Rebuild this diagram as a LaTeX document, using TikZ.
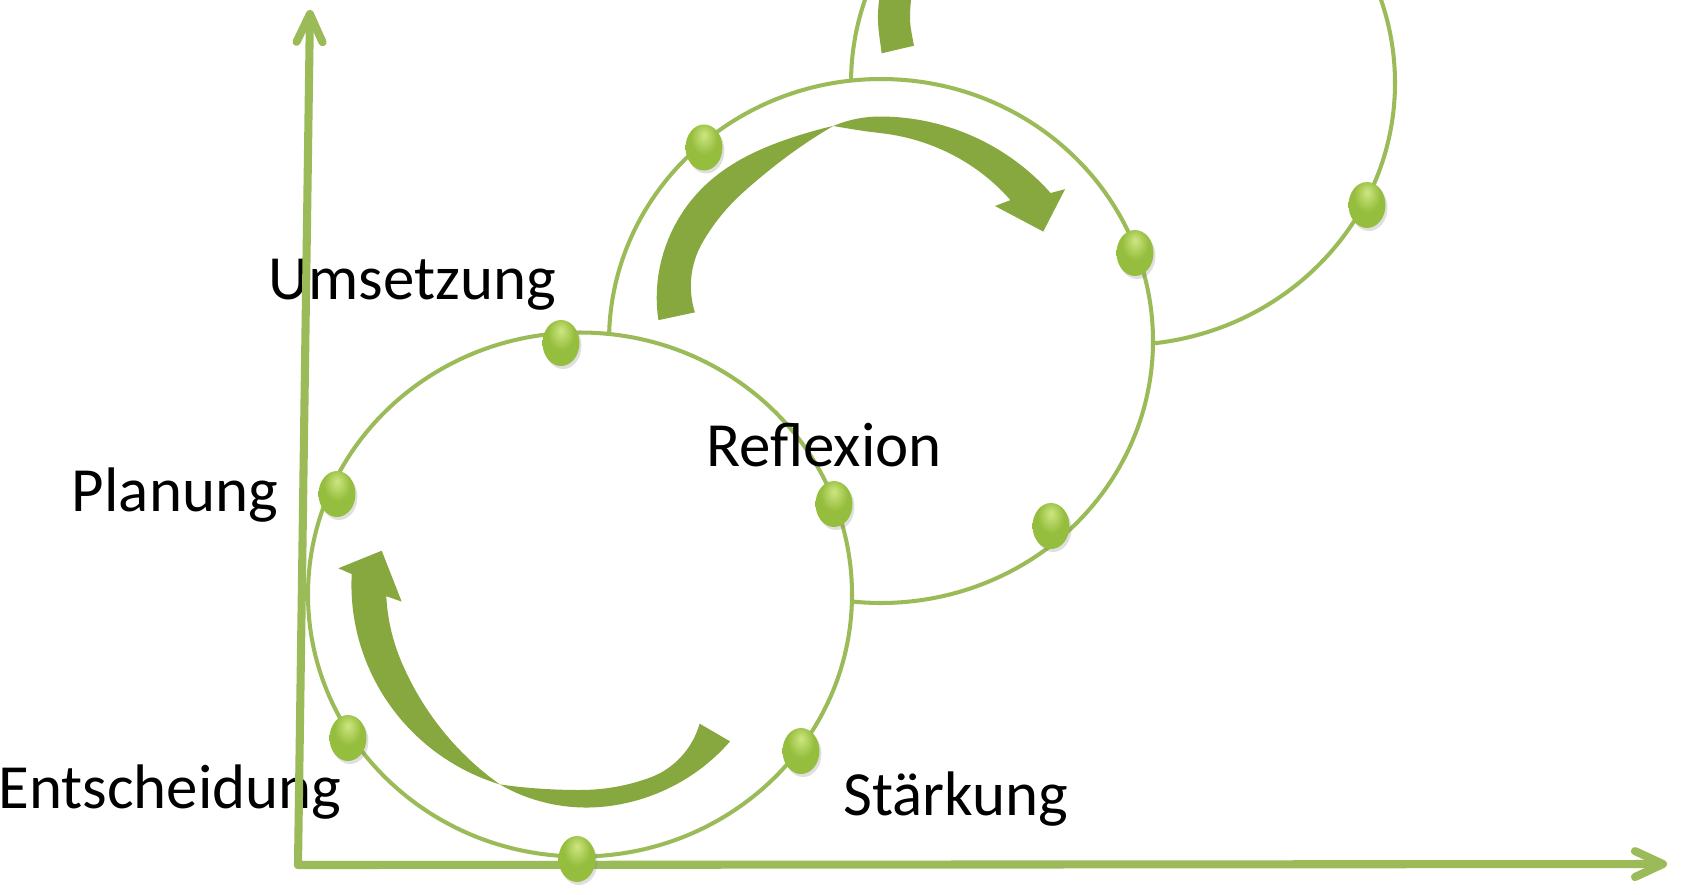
\documentclass[tikz,border=0pt]{standalone}
\usepackage{fontspec}
\setmainfont{Carlito}
\usetikzlibrary{arrows.meta,shapes.geometric,shadows}

\definecolor{ringgreen}{RGB}{155,187,89}
\definecolor{bandgreen}{RGB}{134,168,62}
\definecolor{knobhi}{RGB}{205,230,130}
\definecolor{knobmid}{RGB}{150,190,62}
\definecolor{knoblo}{RGB}{80,105,25}
\pgfdeclareradialshading{knobshade}{\pgfpoint{0bp}{14bp}}{color(0bp)=(knobhi);
  color(18bp)=(knobmid); color(38bp)=(knobmid); color(50bp)=(knoblo); color(70bp)=(knoblo)}

\tikzset{
  ring/.style={draw=ringgreen, line width=2.3pt},
  axis/.style={draw=ringgreen, line width=4.6pt, line cap=round,
    -{Straight Barb[length=0.56cm,width=0.52cm,round]}},
  band/.style={fill=bandgreen},
  edge/.style={samples=40, variable=\t},
  knob/.style={ellipse, inner sep=0pt, minimum width=0.74cm, minimum height=0.92cm,
    shading=knobshade,
    drop shadow={opacity=0.25,shadow xshift=0.04cm,shadow yshift=-0.06cm}},
  phase/.style={anchor=base west, inner sep=0pt, font=\fontsize{35.8pt}{43pt}\selectfont}
}

\begin{document}
\begin{tikzpicture}[x=0.02cm,y=-0.02cm]
    \useasboundingbox (0,0) rectangle (1701,894);

    \coordinate (c1) at (580,594.5);
    \coordinate (c2) at (881,341);
    \coordinate (c3) at (1123,83);

    % three rings, each one broken where it meets the one before
    \draw[ring] (c1) ellipse [x radius=272, y radius=262];
    \draw[ring] ([shift={(-178.55:272 and 262)}]c2)
        arc[start angle=-178.55, end angle=96.15, x radius=272, y radius=262];
    \draw[ring] ([shift={(-179.5:272 and 262)}]c3)
        arc[start angle=-179.5, end angle=83.7, x radius=272, y radius=262];

    % curved block arrows (twisted ribbons, thin in the middle)
    \begin{scope}[shift={(580,586)}]
        \fill[band] (190.1:201.4) -- (175:179)
            -- plot[edge, domain=177:112] (\t:{194+20*(1-min(1,(\t-112)/45))^2})
            -- plot[edge, domain=112:46] (\t:{222-8*(max(0,\t-82)/30)^2-6*(max(0,82-\t)/36)^2})
            -- plot[edge, domain=49:112] (\t:{204+10*(max(0,\t-90)/22)^2-21.6*(max(0,70-\t)/21)^2})
            -- plot[edge, domain=112:183] (\t:{214+14.6*sin(90*(\t-112)/71)})
            -- (184.2:242.3) -- cycle;
    \end{scope}
    \begin{scope}[shift={(880,345)}]
        \fill[band] (186.4:223)
            -- plot[edge, domain=186.4:258] (\t:{224+14*cos(min(90,max(0,\t-215)*90/40))^2-15*(max(0,215-\t)/28.6)^2})
            -- plot[edge, domain=258:318.3] (\t:{228.5-4.5*(max(0,270-\t)/12)^2})
            -- (319.9:242) -- (325.2:198.8) -- (309.6:180.4)
            -- plot[edge, domain=312:258] (\t:{212-0.405*(\t-270)+0.049*(max(0,270-\t))^2})
            -- plot[edge, domain=258:190] (\t:{205-17*(max(0,210-\t)/20)^2+19*(max(0,\t-228)/30)^2})
            -- cycle;
    \end{scope}
    \fill[band] (880,-10) .. controls (877,20) .. (881.7,53.3)
        -- (914,45.7) .. controls (909,20) .. (912,-10) -- cycle;

    \node[phase] (umsetzung) at (268,299.4) {Umsetzung};
    \node[phase] (planung) at (71.6,511) {Planung};
    \node[phase] (reflexion) at (706,466.5) {Reflexion};
    \node[phase] (entscheidung) at (-2,808) {Entscheidung};
    \node[phase] (staerkung) at (843,815.8) {Stärkung};

    \coordinate (origin) at (298,865);
    \coordinate (ytop) at (310,10);
    \coordinate (xend) at (1667,864);
    \draw[axis] (origin) -- (ytop);
    \draw[axis] (origin) -- (xend);

    % points on the rings
    \node[knob] (k1) at (561,343) {};
    \node[knob] (k2) at (337,494) {};
    \node[knob] (k3) at (348,738) {};
    \node[knob] (k4) at (577,859) {};
    \node[knob] (k5) at (801,751) {};
    \node[knob] (k6) at (834,504) {};
    \node[knob] (k7) at (704,147.5) {};
    \node[knob] (k8) at (1135,253) {};
    \node[knob] (k9) at (1051,526) {};
    \node[knob] (k10) at (1367,205) {};
\end{tikzpicture}
\end{document}
